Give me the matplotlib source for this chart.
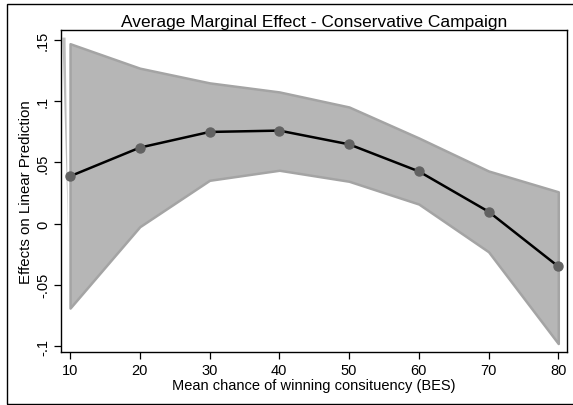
import numpy as np
import matplotlib
matplotlib.use("Agg")
import matplotlib.pyplot as plt
from matplotlib.patches import Rectangle

plt.rcParams['font.family'] = ['Liberation Sans', 'DejaVu Sans']

# marginal effects
chance = [10, 20, 30, 40, 50, 60, 70, 80]
effect = [0.0387, 0.0621, 0.0749, 0.0760, 0.0648, 0.0427, 0.0098, -0.0350]
ci_upper = [0.147, 0.127, 0.115, 0.1076, 0.0953, 0.0700, 0.0430, 0.0260]
ci_lower = [-0.069, -0.0025, 0.0354, 0.0436, 0.0346, 0.0160, -0.0230, -0.0980]

yticks = [-0.1, -0.05, 0, 0.05, 0.1, 0.15]
ytick_labels = ['-.1', '-.05', '0', '.05', '.1', '.15']
xticks = [10, 20, 30, 40, 50, 60, 70, 80]

fig = plt.figure(figsize=(5.73, 4.06), dpi=100)
ax = fig.add_axes([61 / 573, 1 - 353 / 406, (567 - 61) / 573, (353 - 31) / 406])

# confidence band
ax.fill_between(chance, ci_lower, ci_upper, facecolor='#b6b6b6',
                edgecolor='#a4a4a4', linewidth=1.8, zorder=1)
# thin sliver artefact at the left edge of the band
ax.fill([8.9, 9.35, 9.72], [0.152, 0.152, -0.006], color='#bcbcbc',
        linewidth=0, zorder=1)

ax.plot(chance, effect, color='black', linewidth=1.8, zorder=2)
ax.plot(chance, effect, 'o', color='#626262', markersize=6.5, zorder=3)

ax.set_xlim(8.7, 81.25)
ax.set_ylim(-0.1049, 0.1582)
ax.set_xticks(xticks)
ax.set_yticks(yticks)
ax.set_yticklabels(ytick_labels, rotation=90, va='center')
ax.tick_params(axis='both', labelsize=10.5, length=5, width=0.9,
               direction='out', color='black', pad=3)

for s in ax.spines.values():
    s.set_linewidth(1.0)
    s.set_color('black')

ax.set_xlabel('Mean chance of winning consituency (BES)', fontsize=10.5,
              labelpad=1)
ax.set_ylabel('Effects on Linear Prediction', fontsize=10.8, labelpad=2)
ax.set_title('Average Marginal Effect - Conservative Campaign',
             fontsize=12.5, pad=3)

# outer frame of the graph region
fig.patches.append(Rectangle((7 / 573, 1 / 406), 1.02, 400 / 406,
                             transform=fig.transFigure, fill=False,
                             edgecolor='black', linewidth=1.0))

fig.savefig('out.png', dpi=100)
